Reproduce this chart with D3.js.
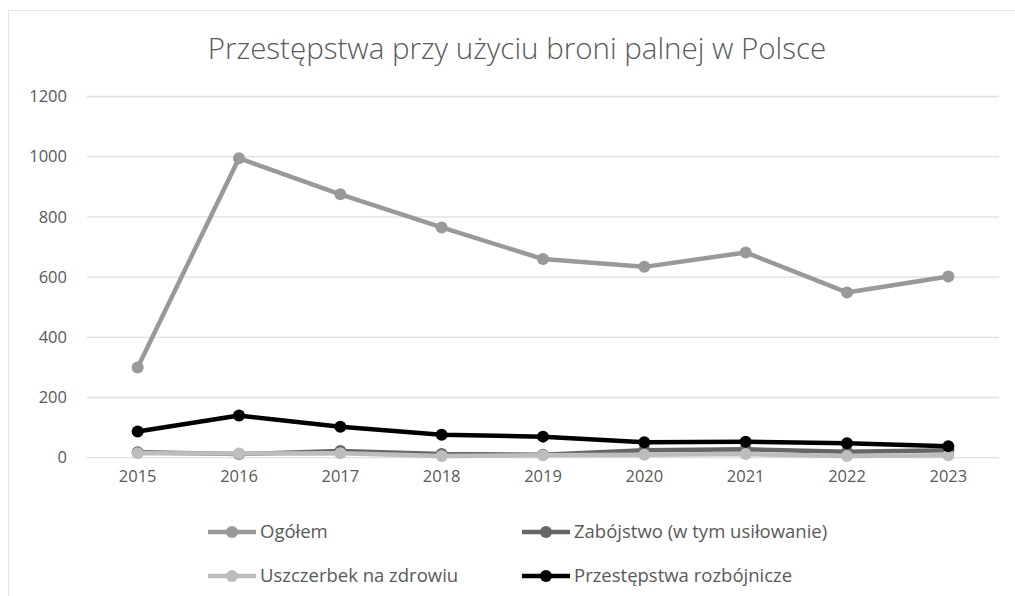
<!DOCTYPE html>
<html>
<head>
<meta charset="utf-8">
<script src="https://cdn.jsdelivr.net/npm/d3@7"></script>
<style>
  body { margin: 0; background: #fff; }
  text { font-family: "Open Sans", "Noto Sans", sans-serif; fill: #595959; }
</style>
</head>
<body>
<div id="chart"></div>
<script>
// dane
const years = ["2015", "2016", "2017", "2018", "2019", "2020", "2021", "2022", "2023"];
const ogolem = [300, 995, 875, 765, 660, 634, 682, 549, 602];
const zabojstwo = [18, 12, 22, 12, 10, 25, 28, 20, 25];
const uszczerbek = [15, 14, 15, 6, 8, 10, 12, 6, 8];
const rozbojnicze = [87, 140, 103, 76, 70, 51, 53, 48, 38];
const yTicks = [0, 200, 400, 600, 800, 1000, 1200];

const series = [
  { name: "Ogółem", values: ogolem, color: "#999999" },
  { name: "Zabójstwo (w tym usiłowanie)", values: zabojstwo, color: "#666666" },
  { name: "Uszczerbek na zdrowiu", values: uszczerbek, color: "#bdbdbd" },
  { name: "Przestępstwa rozbójnicze", values: rozbojnicze, color: "#000000" }
];

const width = 1015, height = 596;
const svg = d3.select("#chart").append("svg")
  .attr("width", width)
  .attr("height", height);

// ramka wykresu
svg.append("rect")
  .attr("x", 8.5).attr("y", 10.5)
  .attr("width", width + 10).attr("height", height + 10)
  .attr("fill", "none")
  .attr("stroke", "#e3e3e3");

const x = d3.scaleBand().domain(years).range([87, 999]);
const y = d3.scaleLinear().domain([0, 1200]).range([457.7, 96.5]);

// tytuł
svg.append("text")
  .attr("x", 517).attr("y", 59)
  .attr("text-anchor", "middle")
  .style("font-size", "29.5px")
  .style("font-weight", 300)
  .text("Przestępstwa przy użyciu broni palnej w Polsce");

// siatka
svg.append("g")
  .selectAll("line")
  .data(yTicks)
  .enter().append("line")
  .attr("x1", 87).attr("x2", 999)
  .attr("y1", d => y(d)).attr("y2", d => y(d))
  .attr("stroke", "#e0e0e0")
  .attr("stroke-width", 1.3);

// oś Y
const yAxis = svg.append("g")
  .attr("transform", "translate(67,0)")
  .call(d3.axisLeft(y).tickValues(yTicks).tickFormat(d3.format("d")).tickSize(0).tickPadding(0));
yAxis.select(".domain").remove();
yAxis.selectAll("text").style("font-size", "16.5px").attr("fill", "#595959");

// oś X
const xAxis = svg.append("g")
  .attr("transform", "translate(0,468)")
  .call(d3.axisBottom(x).tickSize(0).tickPadding(2));
xAxis.select(".domain").remove();
xAxis.selectAll("text").style("font-size", "16.5px").attr("fill", "#595959");

const line = d3.line()
  .x((d, i) => x(years[i]) + x.bandwidth() / 2)
  .y(d => y(d));

// linie i znaczniki
series.forEach(s => {
  const g = svg.append("g");
  g.append("path")
    .datum(s.values)
    .attr("d", line)
    .attr("fill", "none")
    .attr("stroke", s.color)
    .attr("stroke-width", 4.5)
    .attr("stroke-linejoin", "round");
  g.selectAll("circle")
    .data(s.values)
    .enter().append("circle")
    .attr("cx", (d, i) => x(years[i]) + x.bandwidth() / 2)
    .attr("cy", d => y(d))
    .attr("r", 6)
    .attr("fill", s.color);
});

// legenda
const legendPos = [[208, 532], [522, 532], [208, 576], [522, 576]];
series.forEach((s, i) => {
  const [lx, ly] = legendPos[i];
  const g = svg.append("g").attr("transform", `translate(${lx},${ly})`);
  g.append("line")
    .attr("x1", 0).attr("x2", 48)
    .attr("stroke", s.color).attr("stroke-width", 4.5);
  g.append("circle").attr("cx", 24).attr("r", 6).attr("fill", s.color);
  g.append("text")
    .attr("x", 52).attr("dy", "0.35em")
    .style("font-size", "18.5px")
    .text(s.name);
});
</script>
</body>
</html>
